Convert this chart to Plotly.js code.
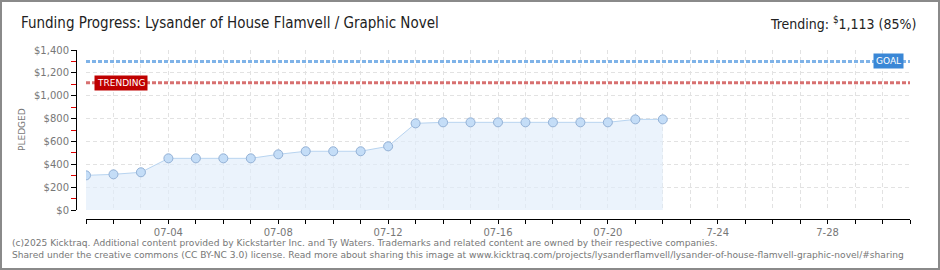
<!DOCTYPE html>
<html>
<head>
<meta charset="utf-8">
<script src="https://cdn.plot.ly/plotly-3.0.1.min.js"></script>
<style>
html,body{margin:0;padding:0;background:#fff;}
#chart{width:940px;height:270px;}
</style>
</head>
<body>
<div id="chart"></div>
<script>
// ---- data ----
const dates = ['2025-07-01','2025-07-02','2025-07-03','2025-07-04','2025-07-05','2025-07-06','2025-07-07','2025-07-08','2025-07-09','2025-07-10','2025-07-11','2025-07-12','2025-07-13','2025-07-14','2025-07-15','2025-07-16','2025-07-17','2025-07-18','2025-07-19','2025-07-20','2025-07-21','2025-07-22'];
const pledged = [303,312,330,452,452,452,452,487,514,514,514,557,758,767,767,767,767,767,767,767,793,793];
const goal = 1300;
const trending = 1113;
const tickDates = ['2025-07-04','2025-07-08','2025-07-12','2025-07-16','2025-07-20','2025-07-24','2025-07-28'];
const tickLabels = ['07-04','07-08','07-12','07-16','07-20','7-24','7-28'];
const yTickVals = [0,200,400,600,800,1000,1200,1400];
const yTickText = ['$0','$200','$400','$600','$800','$1,000','$1,200','$1,400'];
const titleText = 'Funding Progress: Lysander of House Flamvell / Graphic Novel';
const trendText = 'Trending: <sup>$</sup>1,113 (85%)';
const footer1 = '(c)2025 Kicktraq. Additional content provided by Kickstarter Inc. and Ty Waters. Trademarks and related content are owned by their respective companies.';
const footer2 = 'Shared under the creative commons (CC BY-NC 3.0) license. Read more about sharing this image at www.kicktraq.com/projects/lysanderflamvell/lysander-of-house-flamvell-graphic-novel/#sharing';

// ---- geometry helpers ----
const W = 940, H = 270;
const mL = 76, mR = 30, mT = 50, mB = 51;
const pw = W - mL - mR, ph = H - mT - mB;
const px = X => (X - mL) / pw;
const py = Y => (H - mB - Y) / ph;

const trace = {
  x: dates, y: pledged, type: 'scatter', mode: 'lines+markers',
  fill: 'tozeroy', fillcolor: 'rgba(225,237,251,0.65)',
  line: {color: '#b8d4f0', width: 1},
  marker: {size: 9, color: '#c4ddf7', line: {color: '#93b1d6', width: 1}},
  hoverinfo: 'skip', showlegend: false
};

const gridStyle = {gridcolor: '#e2e2e2', griddash: '4px,3px', gridwidth: 1};

const layout = {
  width: W, height: H,
  margin: {l: mL, r: mR, t: mT, b: mB, pad: 0},
  paper_bgcolor: '#fff', plot_bgcolor: '#fff',
  showlegend: false,
  xaxis: Object.assign({
    type: 'date', domain: [px(86), 1],
    range: ['2025-07-01', '2025-07-31'],
    anchor: 'free', position: 0,
    tickvals: tickDates, ticktext: tickLabels,
    ticks: 'outside', ticklen: 4, tickcolor: '#000', tickwidth: 1,
    minor: Object.assign({dtick: 86400000, tick0: '2025-07-01', ticks: 'outside', ticklen: 4, tickcolor: '#000', tickwidth: 1, showgrid: true}, gridStyle),
    showline: true, linecolor: '#000', linewidth: 1,
    showgrid: true,
    zeroline: false,
    tickfont: {family: 'DejaVu Sans', size: 10, color: '#777'}
  }, gridStyle),
  yaxis: Object.assign({
    domain: [py(210), 1],
    range: [0, 1400],
    anchor: 'free', position: 0,
    tickvals: yTickVals, ticktext: yTickText,
    ticks: 'outside', ticklen: 5, tickcolor: '#000', tickwidth: 1,
    minor: {dtick: 100, tick0: 100, ticks: 'outside', ticklen: 5, tickcolor: '#e00000', tickwidth: 1, showgrid: false},
    showline: true, linecolor: '#000', linewidth: 1,
    showgrid: true,
    zeroline: false,
    tickfont: {family: 'DejaVu Sans', size: 10, color: '#777'}
  }, gridStyle),
  shapes: [
    {type: 'line', xref: 'paper', yref: 'y', x0: px(86), x1: 1, y0: goal, y1: goal,
     line: {color: '#7fb3e8', width: 3, dash: '4px,2px'}},
    {type: 'line', xref: 'paper', yref: 'y', x0: px(86), x1: 1, y0: trending, y1: trending,
     line: {color: '#d77070', width: 3, dash: '4px,2px'}},
    {type: 'rect', xref: 'paper', yref: 'paper', x0: px(1), x1: px(939), y0: py(1), y1: py(269),
     line: {color: '#8a8a8a', width: 2}, fillcolor: 'rgba(0,0,0,0)', layer: 'above'}
  ],
  annotations: [
    {xref: 'paper', yref: 'paper', x: px(19), y: py(23), xanchor: 'left', yanchor: 'middle',
     text: titleText, showarrow: false,
     font: {family: 'DejaVu Sans Condensed, sans-serif', size: 15, color: '#222'}},
    {xref: 'paper', yref: 'paper', x: px(918), y: py(23), xanchor: 'right', yanchor: 'middle',
     text: trendText, showarrow: false,
     font: {family: 'DejaVu Sans Condensed, sans-serif', size: 14, color: '#222'}},
    {xref: 'paper', yref: 'paper', x: px(22), y: py(130), xanchor: 'center', yanchor: 'middle',
     text: 'PLEDGED', textangle: -90, showarrow: false,
     font: {family: 'DejaVu Sans', size: 9, color: '#777'}},
    {xref: 'paper', yref: 'y', x: px(888), y: goal, xanchor: 'center', yanchor: 'middle',
     text: 'GOAL', showarrow: false, bgcolor: '#3a87d6', borderpad: 2,
     font: {family: 'DejaVu Sans', size: 9, color: '#fff'}},
    {xref: 'paper', yref: 'y', x: px(120.5), y: trending, xanchor: 'center', yanchor: 'middle',
     text: 'TRENDING', showarrow: false, bgcolor: '#bf0000', borderpad: 2,
     font: {family: 'DejaVu Sans', size: 9, color: '#fff'}},
    {xref: 'paper', yref: 'paper', x: px(10), y: py(243), xanchor: 'left', yanchor: 'middle',
     text: footer1, showarrow: false,
     font: {family: 'DejaVu Sans', size: 9.1, color: '#777'}},
    {xref: 'paper', yref: 'paper', x: px(10), y: py(255), xanchor: 'left', yanchor: 'middle',
     text: footer2, showarrow: false,
     font: {family: 'DejaVu Sans', size: 9.1, color: '#777'}}
  ]
};

Plotly.newPlot('chart', [trace], layout, {staticPlot: true, displayModeBar: false});
</script>
</body>
</html>
